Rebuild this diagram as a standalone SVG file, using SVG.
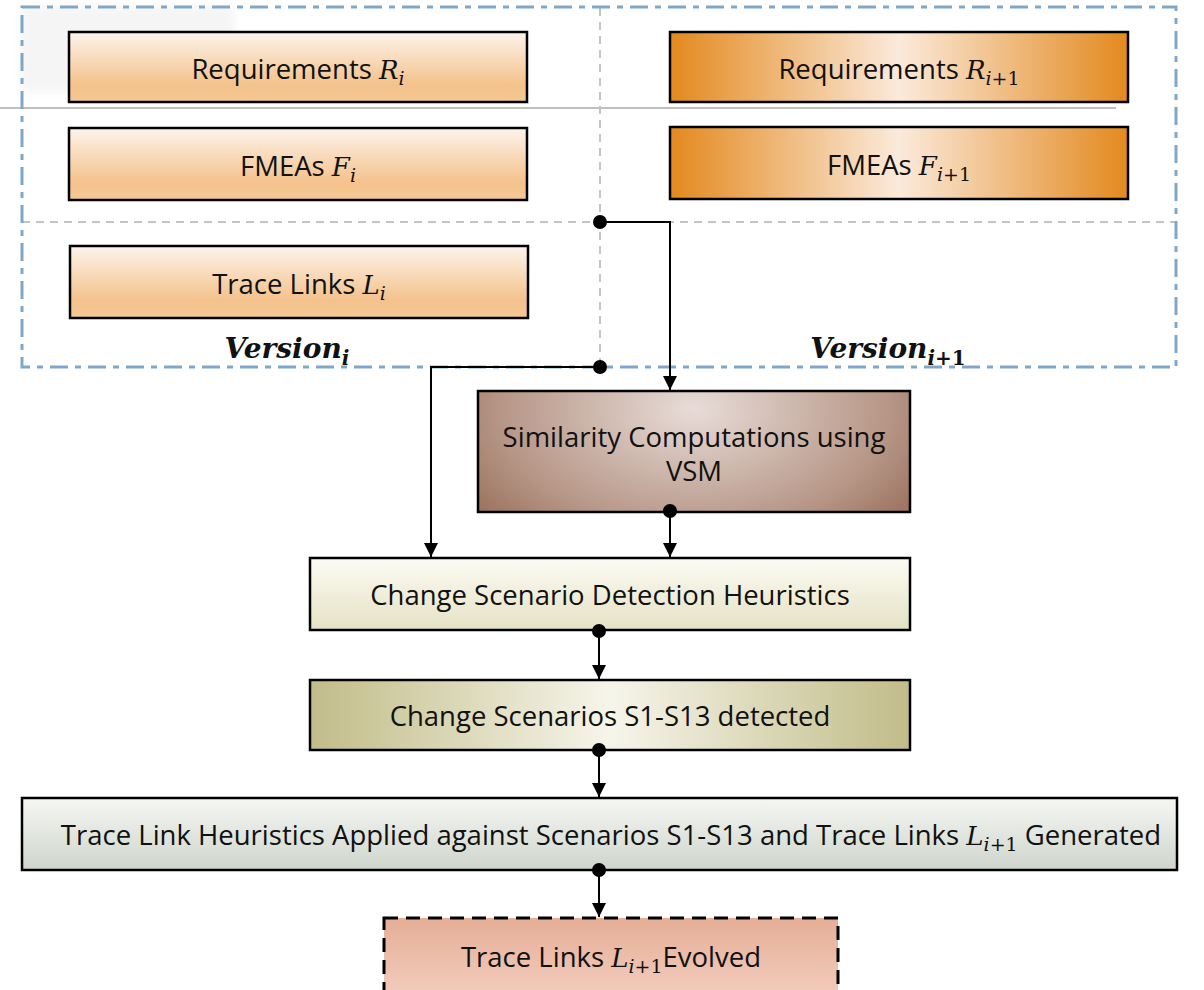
<svg xmlns="http://www.w3.org/2000/svg" width="1204" height="990" viewBox="0 0 1204 990">
  <style>
    .box { stroke: #000; stroke-width: 2.5; }
    .lbl { font-family: "Open Sans", "Noto Sans", sans-serif; font-size: 27.5px; fill: #111; text-anchor: middle; }
    .m { font-family: "DejaVu Serif", "Liberation Serif", serif; font-style: italic; font-size: 26px; }
    .sub { font-family: "DejaVu Serif", "Liberation Serif", serif; font-style: italic; font-size: 19px; }
    .subn { font-family: "DejaVu Serif", "Liberation Serif", serif; font-style: normal; font-size: 19px; }
    .ver { font-family: "DejaVu Serif", "Liberation Serif", serif; font-style: italic; font-weight: bold; font-size: 28px; fill: #111; text-anchor: middle; }
    .conn { fill: none; stroke: #000; stroke-width: 2; }
    .dot { fill: #000; }
    .grid { fill: none; stroke: #c4c4c4; stroke-width: 2; stroke-dasharray: 8 6; }
  </style>
  <defs>
    <linearGradient id="gOld" x1="0" y1="0" x2="0" y2="1">
      <stop offset="0" stop-color="#fdf4ec"/>
      <stop offset="0.75" stop-color="#f4c28c"/>
      <stop offset="1" stop-color="#f5c893"/>
    </linearGradient>
    <linearGradient id="gNew" x1="0" y1="0" x2="1" y2="0">
      <stop offset="0" stop-color="#e3891e"/>
      <stop offset="0.5" stop-color="#fbeadb"/>
      <stop offset="1" stop-color="#e3891e"/>
    </linearGradient>
    <radialGradient id="gSim" cx="0.5" cy="0.15" r="0.75" gradientTransform="translate(0.5 0.15) scale(1 2.2) translate(-0.5 -0.15)">
      <stop offset="0" stop-color="#e8dcd8"/>
      <stop offset="0.6" stop-color="#b69686"/>
      <stop offset="1" stop-color="#8a5a44"/>
    </radialGradient>
    <linearGradient id="gDet" x1="0" y1="0" x2="0" y2="1">
      <stop offset="0" stop-color="#fbfbf4"/>
      <stop offset="1" stop-color="#e5e2c4"/>
    </linearGradient>
    <linearGradient id="gScn" x1="0" y1="0" x2="1" y2="0">
      <stop offset="0" stop-color="#c1bc88"/>
      <stop offset="0.5" stop-color="#f6f5ea"/>
      <stop offset="1" stop-color="#c1bc88"/>
    </linearGradient>
    <linearGradient id="gHeu" x1="0" y1="0" x2="0" y2="1">
      <stop offset="0" stop-color="#f6f7f4"/>
      <stop offset="1" stop-color="#ced5cb"/>
    </linearGradient>
    <linearGradient id="gEvo" x1="0" y1="0" x2="0" y2="1">
      <stop offset="0" stop-color="#e5ae97"/>
      <stop offset="1" stop-color="#f3cdbd"/>
    </linearGradient>
    <filter id="soft" x="-20%" y="-20%" width="140%" height="140%">
      <feGaussianBlur stdDeviation="4"/>
    </filter>
    <marker id="arrow" markerUnits="userSpaceOnUse" markerWidth="14" markerHeight="14" refX="14" refY="7" orient="auto">
      <path d="M0,0 L14,7 L0,14 z" fill="#000"/>
    </marker>
  </defs>

  <rect width="1204" height="990" fill="#fff"/>

  <!-- faint shadow patch, top left -->
  <rect x="20" y="6" width="214" height="86" rx="6" fill="#f5f5f5" filter="url(#soft)"/>

  <!-- version frame and grid -->
  <g id="versions">
    <line x1="0" y1="108" x2="1116" y2="108" stroke="#a8a8a8" stroke-width="1.5"/>
    <line class="grid" x1="600" y1="8" x2="600" y2="366"/>
    <line class="grid" x1="22" y1="222" x2="1176" y2="222"/>
    <rect x="22" y="7" width="1154" height="360" fill="none" stroke="#7fa7ca" stroke-width="3" stroke-dasharray="18 7 6 7"/>
    <text class="ver" x="287" y="358">Version<tspan font-size="20" dy="7">i</tspan></text>
    <text class="ver" x="888" y="358">Version<tspan font-size="20" dy="7">i</tspan><tspan font-size="20" font-style="normal">+1</tspan></text>
  </g>

  <g id="req-i">
    <rect class="box" x="69" y="32" width="458" height="70" fill="url(#gOld)"/>
    <text class="lbl" x="298" y="79">Requirements <tspan class="m">R</tspan><tspan class="sub" dy="6">i</tspan></text>
  </g>
  <g id="fmea-i">
    <rect class="box" x="69" y="128" width="458" height="72" fill="url(#gOld)"/>
    <text class="lbl" x="298" y="176">FMEAs <tspan class="m">F</tspan><tspan class="sub" dy="6">i</tspan></text>
  </g>
  <g id="links-i">
    <rect class="box" x="70" y="246" width="458" height="72" fill="url(#gOld)"/>
    <text class="lbl" x="299" y="294">Trace Links <tspan class="m">L</tspan><tspan class="sub" dy="6">i</tspan></text>
  </g>
  <g id="req-next">
    <rect class="box" x="670" y="32" width="458" height="70" fill="url(#gNew)"/>
    <text class="lbl" x="899" y="79">Requirements <tspan class="m">R</tspan><tspan class="sub" dy="6">i</tspan><tspan class="subn">+1</tspan></text>
  </g>
  <g id="fmea-next">
    <rect class="box" x="670" y="127" width="458" height="72" fill="url(#gNew)"/>
    <text class="lbl" x="899" y="175">FMEAs <tspan class="m">F</tspan><tspan class="sub" dy="6">i</tspan><tspan class="subn">+1</tspan></text>
  </g>

  <g id="similarity">
    <rect class="box" x="478" y="391" width="432" height="121" fill="url(#gSim)"/>
    <text class="lbl" x="694" y="447">Similarity Computations using</text>
    <text class="lbl" x="694" y="481">VSM</text>
  </g>
  <g id="detection">
    <rect class="box" x="310" y="558" width="600" height="72" fill="url(#gDet)"/>
    <text class="lbl" x="610" y="605">Change Scenario Detection Heuristics</text>
  </g>
  <g id="scenarios">
    <rect class="box" x="310" y="680" width="600" height="70" fill="url(#gScn)"/>
    <text class="lbl" x="610" y="726">Change Scenarios S1-S13 detected</text>
  </g>
  <g id="heuristics">
    <rect class="box" x="22" y="798" width="1155" height="72" fill="url(#gHeu)"/>
    <text class="lbl" x="611" y="845">Trace Link Heuristics Applied against Scenarios S1-S13 and Trace Links <tspan class="m">L</tspan><tspan class="sub" dy="6">i</tspan><tspan class="subn">+1</tspan><tspan dy="-6"> Generated</tspan></text>
  </g>
  <g id="evolved">
    <rect x="384" y="918" width="454" height="80" fill="url(#gEvo)" stroke="#000" stroke-width="3" stroke-dasharray="14 8"/>
    <text class="lbl" x="611" y="967">Trace Links <tspan class="m">L</tspan><tspan class="sub" dy="6">i</tspan><tspan class="subn">+1</tspan><tspan dy="-6">Evolved</tspan></text>
  </g>

  <g id="connectors">
    <path class="conn" d="M600,222 H670 V390" marker-end="url(#arrow)"/>
    <path class="conn" d="M600,367 H431 V557" marker-end="url(#arrow)"/>
    <path class="conn" d="M670,511 V557" marker-end="url(#arrow)"/>
    <path class="conn" d="M599,631 V679" marker-end="url(#arrow)"/>
    <path class="conn" d="M599,750 V797" marker-end="url(#arrow)"/>
    <path class="conn" d="M599,870 V917" marker-end="url(#arrow)"/>
    <circle class="dot" cx="600" cy="222" r="7"/>
    <circle class="dot" cx="600" cy="367" r="7"/>
    <circle class="dot" cx="670" cy="511" r="7"/>
    <circle class="dot" cx="599" cy="631" r="7"/>
    <circle class="dot" cx="599" cy="750" r="7"/>
    <circle class="dot" cx="599" cy="870" r="7"/>
  </g>
</svg>
